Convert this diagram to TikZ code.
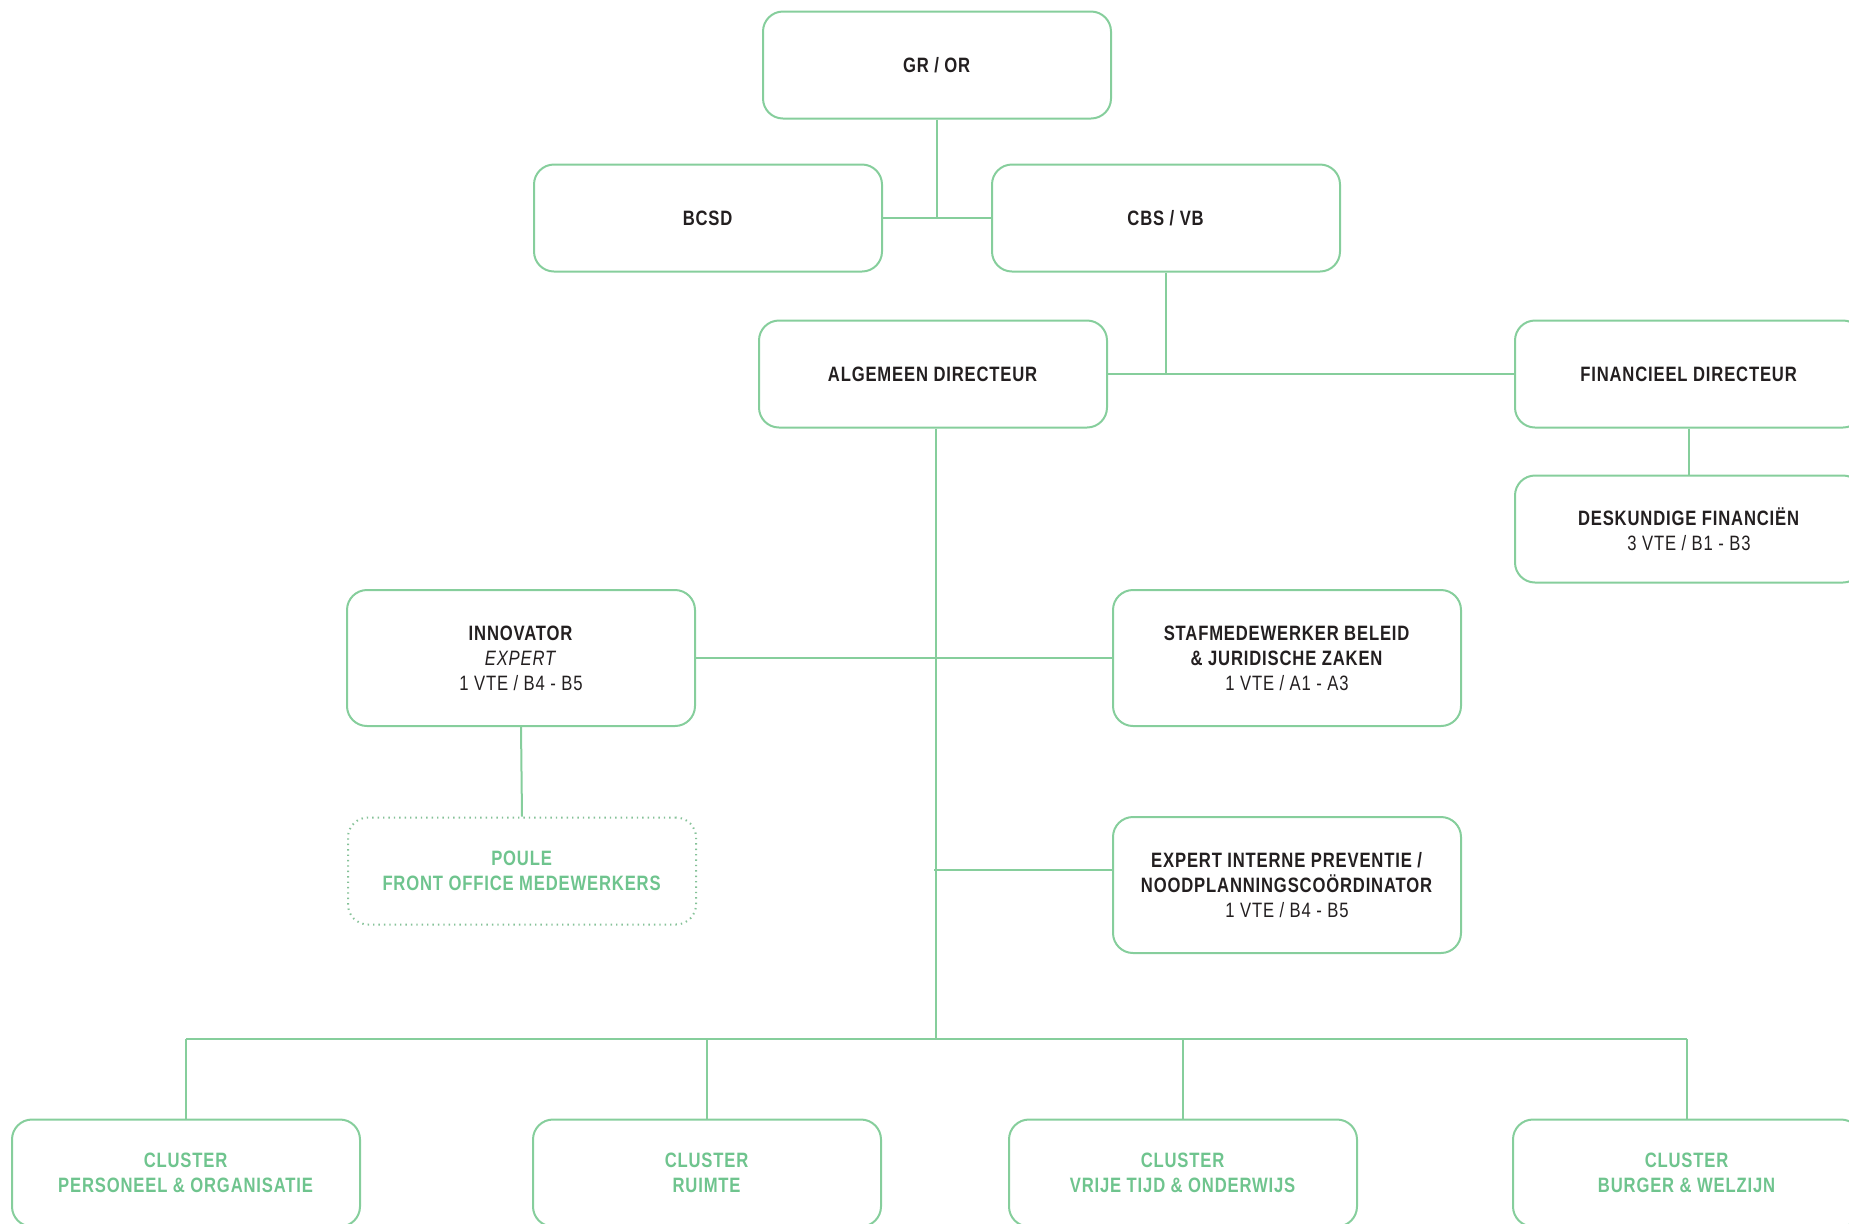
\documentclass[tikz,border=0pt]{standalone}
\usepackage{fontspec}
\setmainfont{Liberation Sans}[FakeStretch=0.8,LetterSpace=4]
\usepackage{tikz}
\usepackage{xcolor}
\definecolor{linegreen}{RGB}{134,206,156}
\definecolor{textgreen}{RGB}{111,196,142}
\definecolor{ink}{RGB}{35,31,32}
\tikzset{box/.style={draw=linegreen,line width=1pt,rounded corners=10pt,
   minimum width=174pt,minimum height=53.5pt,align=center,text=ink,
   font=\fontsize{10.4}{12.5}\selectfont},
 tallbox/.style={box,minimum height=68pt},
 dotbox/.style={box,draw=linegreen!85!gray,dash pattern=on 0.7pt off 2pt,text=textgreen},
 clusterbox/.style={box,text=textgreen},
 link/.style={draw=linegreen,line width=1pt},
 }

\begin{document}
\begin{tikzpicture}[x=0.5pt,y=-0.5pt]
        \clip (0,0) rectangle (1849,1223);
        \node[box] (gror) at (937,65) {\textbf{GR / OR}};
        \node[box] (bcsd) at (708,218) {\textbf{BCSD}};
        \node[box] (cbs) at (1166,218) {\textbf{CBS / VB}};
        \node[box] (ad) at (933,374) {\textbf{ALGEMEEN DIRECTEUR}};
        \node[box] (fd) at (1689,374) {\textbf{FINANCIEEL DIRECTEUR}};
        \node[box] (desk) at (1689,529) {\textbf{DESKUNDIGE FINANCIËN}\\3 VTE / B1 - B3};
        \node[tallbox] (innov) at (521,658) {\textbf{INNOVATOR}\\\textit{EXPERT}\\1 VTE / B4 - B5};
        \node[dotbox] (poule) at (522,871) {\textbf{POULE}\\\textbf{FRONT OFFICE MEDEWERKERS}};
        \node[tallbox] (staf) at (1287,658) {\textbf{STAFMEDEWERKER BELEID}\\\textbf{\& JURIDISCHE ZAKEN}\\1 VTE / A1 - A3};
        \node[tallbox] (expert) at (1287,885) {\textbf{EXPERT INTERNE PREVENTIE /}\\\textbf{NOODPLANNINGSCOÖRDINATOR}\\1 VTE / B4 - B5};
        \node[clusterbox] (po) at (186,1173) {\textbf{CLUSTER}\\\textbf{PERSONEEL \& ORGANISATIE}};
        \node[clusterbox] (ruimte) at (707,1173) {\textbf{CLUSTER}\\\textbf{RUIMTE}};
        \node[clusterbox] (vto) at (1183,1173) {\textbf{CLUSTER}\\\textbf{VRIJE TIJD \& ONDERWIJS}};
        \node[clusterbox] (bw) at (1687,1173) {\textbf{CLUSTER}\\\textbf{BURGER \& WELZIJN}};
        \coordinate (hub) at (936,1039);
        \coordinate (prev) at ([yshift=7.5pt]expert.west);
        \draw[link] (gror.south) -- (gror.south |- bcsd.east);
        \draw[link] (bcsd.east) -- (cbs.west);
        \draw[link] (cbs.south) -- (cbs.south |- ad.east);
        \draw[link] (ad.east) -- (fd.west);
        \draw[link] (fd.south) -- (desk.north);
        \draw[link] (hub |- ad.south) -- (hub);
        \draw[link] (innov.east) -- (staf.west);
        \draw[link] ([xshift=-1pt]hub |- prev) -- (prev);
        \draw[link] (innov.south) -- (poule.north);
        \draw[link] (po.north |- hub) -- (bw.north |- hub);
        \foreach \c in {po,ruimte,vto,bw}
            \draw[link] (\c.north |- hub) -- (\c.north);
    \end{tikzpicture}
\end{document}
